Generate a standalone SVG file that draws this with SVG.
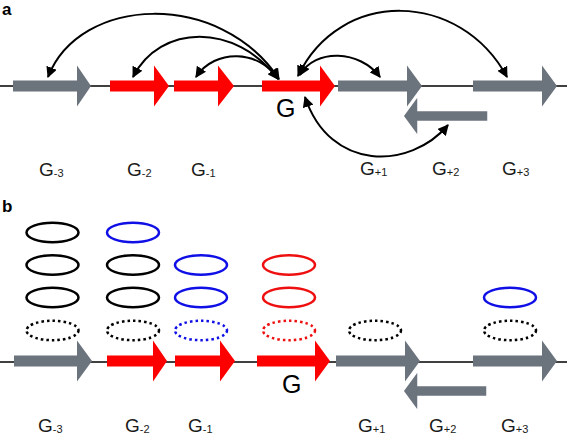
<svg xmlns="http://www.w3.org/2000/svg" width="567" height="436" viewBox="0 0 567 436">
<style>
.ln{stroke:#000;stroke-width:1.6;fill:none}
.gray{fill:#6b737d}
.red{fill:#ff0000}
.rev{fill:#6b737d;stroke:#fff;stroke-width:1.5}
.arc{stroke:#000;stroke-width:2;fill:none;marker-start:url(#ah);marker-end:url(#ah)}
.lbl{font-family:"Liberation Sans",Arial,sans-serif;font-size:19px;fill:#1a1a1a}
.sub{font-size:11px}
.big{font-family:"Liberation Sans",Arial,sans-serif;font-size:25px;fill:#000}
.pl{font-family:"Liberation Sans",Arial,sans-serif;font-size:17px;font-weight:bold;fill:#000}
.el{fill:none;stroke-width:2.5}
.k{stroke:#000}
.b{stroke:#1010e6}
.r{stroke:#ee1010}
.dot{stroke-dasharray:2.5 3}
</style>
<defs>
<marker id="ah" viewBox="0 0 10 10" refX="9" refY="5" markerWidth="5.5" markerHeight="5.5" orient="auto-start-reverse" markerUnits="strokeWidth">
<path d="M0,0 L10,5 L0,10 z" fill="#000"/>
</marker>
</defs>
<text class="pl" x="2" y="15">a</text>
<text class="pl" x="2" y="212">b</text>
<line class="ln" x1="0" y1="86" x2="567" y2="86"/>
<line class="ln" x1="0" y1="362" x2="567" y2="362"/>
<g id="a-Gm3"><polygon class="gray" points="13,80.5 77,80.5 77,65.5 91,86 77,106.5 77,91.5 13,91.5"/><text class="lbl" x="39" y="176">G<tspan class="sub" dy="1">-3</tspan></text></g>
<g id="a-Gm2"><polygon class="red" points="110,80.5 154,80.5 154,65.5 169,86 154,106.5 154,91.5 110,91.5"/><text class="lbl" x="127" y="176">G<tspan class="sub" dy="1">-2</tspan></text></g>
<g id="a-Gm1"><polygon class="red" points="174,80.5 218,80.5 218,65.5 234,86 218,106.5 218,91.5 174,91.5"/><text class="lbl" x="191" y="176">G<tspan class="sub" dy="1">-1</tspan></text></g>
<g id="a-G"><polygon class="red" points="262,80.5 320,80.5 320,65.5 335,86 320,106.5 320,91.5 262,91.5"/><text class="big" x="276" y="117">G</text></g>
<g id="a-Gp1"><polygon class="gray" points="338,80.5 407,80.5 407,65.5 422,86 407,106.5 407,91.5 338,91.5"/><text class="lbl" x="360" y="175">G<tspan class="sub" dy="1">+1</tspan></text></g>
<g id="a-Gp3"><polygon class="gray" points="473,80.5 542,80.5 542,65.5 557,86 542,106.5 542,91.5 473,91.5"/><text class="lbl" x="502" y="175">G<tspan class="sub" dy="1">+3</tspan></text></g>
<g id="a-Gp2"><polygon class="rev" points="488,110.5 418,110.5 418,95.5 403,116 418,136.5 418,121.5 488,121.5"/><text class="lbl" x="432" y="175">G<tspan class="sub" dy="1">+2</tspan></text></g>
<g id="connectors">
<path class="arc" d="M279,79 C220,-10 80,-5 48,77"/>
<path class="arc" d="M278,79 C235,22 160,24 133,77"/>
<path class="arc" d="M278,79 C260,50 215,48 196,77"/>
<path class="arc" d="M300,75 C315,48 360,50 380,77"/>
<path class="arc" d="M298,76 C340,-12 460,-10 507,77"/>
<path class="arc" d="M305,97 C330,172 410,170 448,125"/>
</g>
<g id="b-Gm3"><polygon class="gray" points="14,355.5 77,355.5 77,340.5 92,361 77,381.5 77,366.5 14,366.5"/>
<ellipse class="el k" cx="52.5" cy="232.5" rx="26" ry="9.7"/><ellipse class="el k" cx="52.5" cy="265" rx="26" ry="9.7"/><ellipse class="el k" cx="52.5" cy="297.5" rx="26" ry="9.7"/><ellipse class="el k dot" cx="52.5" cy="330.5" rx="26" ry="9.7"/>
<text class="lbl" x="38" y="432">G<tspan class="sub" dy="1">-3</tspan></text></g>
<g id="b-Gm2"><polygon class="red" points="107,355.5 153,355.5 153,340.5 167,361 153,381.5 153,366.5 107,366.5"/>
<ellipse class="el b" cx="133" cy="232.5" rx="26" ry="9.7"/><ellipse class="el k" cx="133" cy="265" rx="26" ry="9.7"/><ellipse class="el k" cx="133" cy="297.5" rx="26" ry="9.7"/><ellipse class="el k dot" cx="133" cy="330.5" rx="26" ry="9.7"/>
<text class="lbl" x="125" y="432">G<tspan class="sub" dy="1">-2</tspan></text></g>
<g id="b-Gm1"><polygon class="red" points="175,355.5 220,355.5 220,340.5 235,361 220,381.5 220,366.5 175,366.5"/>
<ellipse class="el b" cx="201" cy="265" rx="26" ry="9.7"/><ellipse class="el b" cx="201" cy="297.5" rx="26" ry="9.7"/><ellipse class="el b dot" cx="201" cy="330.5" rx="26" ry="9.7"/>
<text class="lbl" x="188" y="432">G<tspan class="sub" dy="1">-1</tspan></text></g>
<g id="b-G"><polygon class="red" points="257,355.5 315,355.5 315,340.5 330,361 315,381.5 315,366.5 257,366.5"/>
<ellipse class="el r" cx="289" cy="265" rx="26" ry="9.7"/><ellipse class="el r" cx="289" cy="297.5" rx="26" ry="9.7"/><ellipse class="el r dot" cx="289" cy="330.5" rx="26" ry="9.7"/>
<text class="big" x="282" y="393">G</text></g>
<g id="b-Gp1"><polygon class="gray" points="336,355.5 405,355.5 405,340.5 420,361 405,381.5 405,366.5 336,366.5"/>
<ellipse class="el k dot" cx="375" cy="330.5" rx="26" ry="9.7"/>
<text class="lbl" x="358" y="432">G<tspan class="sub" dy="1">+1</tspan></text></g>
<g id="b-Gp3"><polygon class="gray" points="473,355.5 542,355.5 542,340.5 557,361 542,381.5 542,366.5 473,366.5"/>
<ellipse class="el b" cx="510" cy="297.5" rx="26" ry="9.7"/><ellipse class="el k dot" cx="510" cy="330.5" rx="26" ry="9.7"/>
<text class="lbl" x="501" y="432">G<tspan class="sub" dy="1">+3</tspan></text></g>
<g id="b-Gp2"><polygon class="rev" points="487,385.5 418,385.5 418,370.5 403,391 418,411.5 418,396.5 487,396.5"/>
<text class="lbl" x="429" y="432">G<tspan class="sub" dy="1">+2</tspan></text></g>
</svg>
